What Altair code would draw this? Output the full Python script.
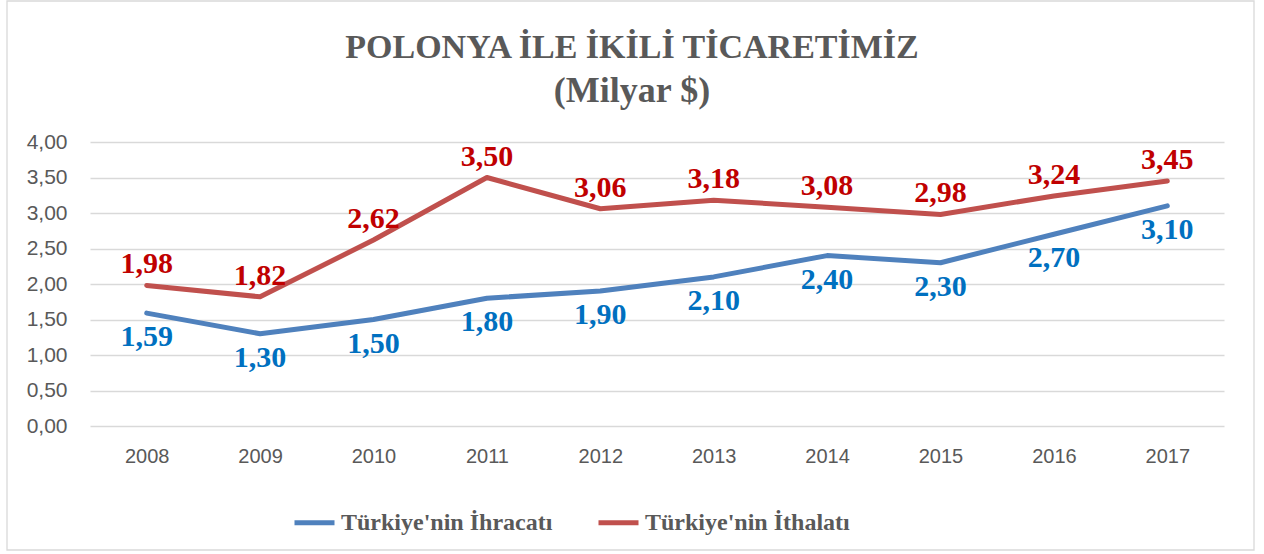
import altair as alt
import pandas as pd

years = ["2008", "2009", "2010", "2011", "2012", "2013", "2014", "2015", "2016", "2017"]
ihracat = [1.59, 1.30, 1.50, 1.80, 1.90, 2.10, 2.40, 2.30, 2.70, 3.10]
ithalat = [1.98, 1.82, 2.62, 3.50, 3.06, 3.18, 3.08, 2.98, 3.24, 3.45]
series_names = ["Türkiye'nin İhracatı", "Türkiye'nin İthalatı"]
title_lines = ["POLONYA İLE İKİLİ TİCARETİMİZ", "(Milyar $)"]
y_ticks = [0, 0.5, 1.0, 1.5, 2.0, 2.5, 3.0, 3.5, 4.0]

df = pd.DataFrame({
    "Yil": years * 2,
    "Deger": ihracat + ithalat,
    "Seri": [series_names[0]] * len(years) + [series_names[1]] * len(years),
})

GRAY = "#595959"
SERIF = "Liberation Serif"
SANS = "Liberation Sans"

y_scale = alt.Scale(domain=[0, 4], nice=False, zero=True)

x_enc = alt.X(
    "Yil:N", sort=years, title=None,
    axis=alt.Axis(labelFont=SANS, labelFontSize=20, labelColor=GRAY, labelPadding=20,
                  ticks=False, domain=False, grid=False, labelAngle=0),
)
y_enc = alt.Y(
    "Deger:Q", title=None, scale=y_scale,
    axis=alt.Axis(values=y_ticks, labelExpr="replace(format(datum.value, '.2f'), '.', ',')",
                  labelFont=SANS, labelFontSize=21, labelColor=GRAY, labelPadding=23,
                  labelOverlap=False, ticks=False, domain=False,
                  gridColor="#d9d9d9", gridWidth=1.3),
)

one = alt.Data(values=[{"k": 1}])

border = alt.Chart(one).mark_rect(filled=False, stroke="#d9d9d9", strokeWidth=1.3).encode(
    x=alt.value(-83), x2=alt.value(1164), y=alt.value(-141), y2=alt.value(408)
)

lines = alt.Chart(df).mark_line(strokeWidth=5, strokeCap="round", strokeJoin="round").encode(
    x=x_enc, y=y_enc,
    color=alt.Color("Seri:N", sort=series_names,
                    scale=alt.Scale(domain=series_names, range=["#4f81bd", "#c0504d"]),
                    legend=alt.Legend(title=None, orient="none", legendX=202, legendY=358,
                                      direction="horizontal", symbolType="stroke",
                                      symbolStrokeWidth=5, symbolSize=1600,
                                      labelFont=SERIF, labelFontWeight="bold", labelFontSize=24,
                                      labelColor=GRAY, labelOffset=4, columnPadding=35,
                                      labelLimit=400)),
)

lab_calc = "replace(format(datum.Deger, '.2f'), '.', ',')"

red_labels = alt.Chart(df).transform_filter(
    alt.datum.Seri == series_names[1]
).transform_calculate(lab=lab_calc).mark_text(
    font=SERIF, fontWeight="bold", fontSize=30, color="#c00000", dy=-21, baseline="middle"
).encode(x=x_enc, y=y_enc, text="lab:N")

blue_labels = alt.Chart(df).transform_filter(
    alt.datum.Seri == series_names[0]
).transform_calculate(lab=lab_calc).mark_text(
    font=SERIF, fontWeight="bold", fontSize=30, color="#0070c0", dy=24, baseline="middle"
).encode(x=x_enc, y=y_enc, text="lab:N")

title1 = alt.Chart(one).mark_text(
    font=SERIF, fontWeight="bold", fontSize=34, color=GRAY, baseline="middle", align="center"
).encode(x=alt.value(542), y=alt.value(-94), text=alt.value(title_lines[0]))

title2 = alt.Chart(one).mark_text(
    font=SERIF, fontWeight="bold", fontSize=36, color=GRAY, baseline="middle", align="center"
).encode(x=alt.value(542), y=alt.value(-51), text=alt.value(title_lines[1]))

chart = alt.layer(border, lines, red_labels, blue_labels, title1, title2).properties(
    width=1134, height=284,
    autosize=alt.AutoSizeParams(type="none"),
    padding={"left": 90, "top": 142, "right": 40, "bottom": 128},
    background="white",
).configure_view(stroke=None)

chart.save("out.html", embed_options={"renderer": "svg", "actions": False})
